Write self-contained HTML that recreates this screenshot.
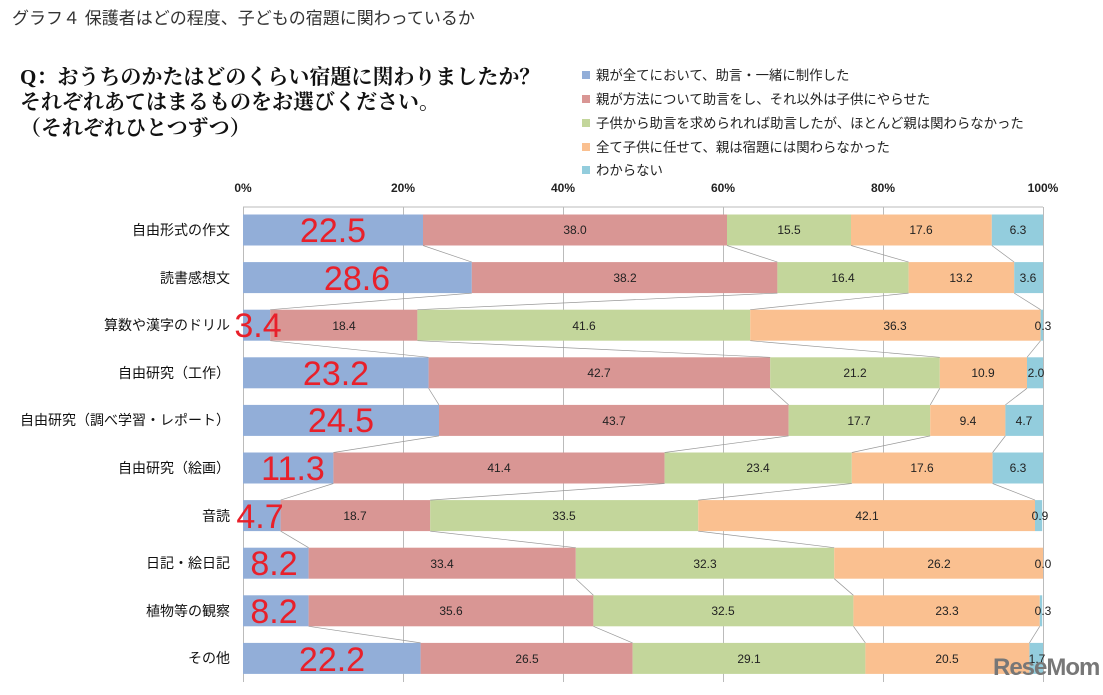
<!DOCTYPE html>
<html><head><meta charset="utf-8"><style>
body{margin:0;background:#fff;}
svg{display:block;font-family:"Liberation Sans","Noto Sans CJK JP",sans-serif;}
.s{font-size:12px;fill:#222;text-anchor:middle;}
.b{font-size:34px;fill:#e8202a;text-anchor:middle;}
.y{font-size:14px;fill:#111;text-anchor:end;}
.t{font-size:12px;fill:#222;text-anchor:middle;font-weight:bold;}
.l{font-size:13.4px;fill:#222;}
.q{font-size:21px;fill:#111;font-weight:bold;font-family:"Liberation Serif","Noto Serif CJK SC",serif;}
</style></head><body>
<svg width="1103" height="695" viewBox="0 0 1103 695">
<text x="12" y="24" style="font-size:17px;fill:#333">グラフ４ 保護者はどの程度、子どもの宿題に関わっているか</text>
<text x="20" y="84" class="q">Q：おうちのかたはどのくらい宿題に関わりましたか？</text>
<text x="20" y="109" class="q">それぞれあてはまるものをお選びください。</text>
<text x="20" y="135" class="q">（それぞれひとつずつ）</text>
<g>
<rect x="582" y="71" width="8" height="8" fill="#92aed8"/><text x="596" y="80" class="l">親が全てにおいて、助言・一緒に制作した</text>
<rect x="582" y="95" width="8" height="8" fill="#d99694"/><text x="596" y="104" class="l">親が方法について助言をし、それ以外は子供にやらせた</text>
<rect x="582" y="119" width="8" height="8" fill="#c3d69b"/><text x="596" y="128" class="l">子供から助言を求められれば助言したが、ほとんど親は関わらなかった</text>
<rect x="582" y="143" width="8" height="8" fill="#fac090"/><text x="596" y="152" class="l">全て子供に任せて、親は宿題には関わらなかった</text>
<rect x="582" y="166" width="8" height="8" fill="#93cddd"/><text x="596" y="175" class="l">わからない</text>
</g>
<g class="t"><text x="243" y="192" class="t">0%</text><text x="403" y="192" class="t">20%</text><text x="563" y="192" class="t">40%</text><text x="723" y="192" class="t">60%</text><text x="883" y="192" class="t">80%</text><text x="1043" y="192" class="t">100%</text></g>
<g stroke="#bbb" stroke-width="1">
<line x1="243" y1="207" x2="1043" y2="207"/>
<line x1="243.5" y1="207" x2="243.5" y2="682"/>
<line x1="403.5" y1="207" x2="403.5" y2="682"/><line x1="563.5" y1="207" x2="563.5" y2="682"/><line x1="723.5" y1="207" x2="723.5" y2="682"/><line x1="883.5" y1="207" x2="883.5" y2="682"/><line x1="1043.5" y1="207" x2="1043.5" y2="682"/>
</g>
<g>
<rect x="243" y="214.5" width="180" height="31" fill="#92aed8"/><rect x="423" y="214.5" width="304" height="31" fill="#d99694"/><rect x="727" y="214.5" width="124" height="31" fill="#c3d69b"/><rect x="851" y="214.5" width="140.8" height="31" fill="#fac090"/><rect x="991.8" y="214.5" width="51.2" height="31" fill="#93cddd"/>
<rect x="243" y="262.1" width="228.8" height="31" fill="#92aed8"/><rect x="471.8" y="262.1" width="305.6" height="31" fill="#d99694"/><rect x="777.4" y="262.1" width="131.2" height="31" fill="#c3d69b"/><rect x="908.6" y="262.1" width="105.6" height="31" fill="#fac090"/><rect x="1014.2" y="262.1" width="28.8" height="31" fill="#93cddd"/>
<rect x="243" y="309.7" width="27.2" height="31" fill="#92aed8"/><rect x="270.2" y="309.7" width="147.2" height="31" fill="#d99694"/><rect x="417.4" y="309.7" width="332.8" height="31" fill="#c3d69b"/><rect x="750.2" y="309.7" width="290.4" height="31" fill="#fac090"/><rect x="1040.6" y="309.7" width="2.4" height="31" fill="#93cddd"/>
<rect x="243" y="357.3" width="185.6" height="31" fill="#92aed8"/><rect x="428.6" y="357.3" width="341.6" height="31" fill="#d99694"/><rect x="770.2" y="357.3" width="169.6" height="31" fill="#c3d69b"/><rect x="939.8" y="357.3" width="87.2" height="31" fill="#fac090"/><rect x="1027" y="357.3" width="16" height="31" fill="#93cddd"/>
<rect x="243" y="404.9" width="196" height="31" fill="#92aed8"/><rect x="439" y="404.9" width="349.6" height="31" fill="#d99694"/><rect x="788.6" y="404.9" width="141.6" height="31" fill="#c3d69b"/><rect x="930.2" y="404.9" width="75.2" height="31" fill="#fac090"/><rect x="1005.4" y="404.9" width="37.6" height="31" fill="#93cddd"/>
<rect x="243" y="452.5" width="90.4" height="31" fill="#92aed8"/><rect x="333.4" y="452.5" width="331.2" height="31" fill="#d99694"/><rect x="664.6" y="452.5" width="187.2" height="31" fill="#c3d69b"/><rect x="851.8" y="452.5" width="140.8" height="31" fill="#fac090"/><rect x="992.6" y="452.5" width="50.4" height="31" fill="#93cddd"/>
<rect x="243" y="500.1" width="37.6" height="31" fill="#92aed8"/><rect x="280.6" y="500.1" width="149.6" height="31" fill="#d99694"/><rect x="430.2" y="500.1" width="268" height="31" fill="#c3d69b"/><rect x="698.2" y="500.1" width="336.8" height="31" fill="#fac090"/><rect x="1035" y="500.1" width="7.2" height="31" fill="#93cddd"/>
<rect x="243" y="547.7" width="65.6" height="31" fill="#92aed8"/><rect x="308.6" y="547.7" width="267.2" height="31" fill="#d99694"/><rect x="575.8" y="547.7" width="258.4" height="31" fill="#c3d69b"/><rect x="834.2" y="547.7" width="208.8" height="31" fill="#fac090"/>
<rect x="243" y="595.3" width="65.6" height="31" fill="#92aed8"/><rect x="308.6" y="595.3" width="284.8" height="31" fill="#d99694"/><rect x="593.4" y="595.3" width="260" height="31" fill="#c3d69b"/><rect x="853.4" y="595.3" width="186.4" height="31" fill="#fac090"/><rect x="1039.8" y="595.3" width="2.4" height="31" fill="#93cddd"/>
<rect x="243" y="642.9" width="177.6" height="31" fill="#92aed8"/><rect x="420.6" y="642.9" width="212" height="31" fill="#d99694"/><rect x="632.6" y="642.9" width="232.8" height="31" fill="#c3d69b"/><rect x="865.4" y="642.9" width="164" height="31" fill="#fac090"/><rect x="1029.4" y="642.9" width="13.6" height="31" fill="#93cddd"/>
</g>
<g stroke="#999" stroke-width="0.7" fill="none">
<line x1="423" y1="245.5" x2="471.8" y2="262.1"/><line x1="727" y1="245.5" x2="777.4" y2="262.1"/><line x1="851" y1="245.5" x2="908.6" y2="262.1"/><line x1="991.8" y1="245.5" x2="1014.2" y2="262.1"/>
<line x1="471.8" y1="293.1" x2="270.2" y2="309.7"/><line x1="777.4" y1="293.1" x2="417.4" y2="309.7"/><line x1="908.6" y1="293.1" x2="750.2" y2="309.7"/><line x1="1014.2" y1="293.1" x2="1040.6" y2="309.7"/>
<line x1="270.2" y1="340.7" x2="428.6" y2="357.3"/><line x1="417.4" y1="340.7" x2="770.2" y2="357.3"/><line x1="750.2" y1="340.7" x2="939.8" y2="357.3"/><line x1="1040.6" y1="340.7" x2="1027" y2="357.3"/>
<line x1="428.6" y1="388.3" x2="439" y2="404.9"/><line x1="770.2" y1="388.3" x2="788.6" y2="404.9"/><line x1="939.8" y1="388.3" x2="930.2" y2="404.9"/><line x1="1027" y1="388.3" x2="1005.4" y2="404.9"/>
<line x1="439" y1="435.9" x2="333.4" y2="452.5"/><line x1="788.6" y1="435.9" x2="664.6" y2="452.5"/><line x1="930.2" y1="435.9" x2="851.8" y2="452.5"/><line x1="1005.4" y1="435.9" x2="992.6" y2="452.5"/>
<line x1="333.4" y1="483.5" x2="280.6" y2="500.1"/><line x1="664.6" y1="483.5" x2="430.2" y2="500.1"/><line x1="851.8" y1="483.5" x2="698.2" y2="500.1"/><line x1="992.6" y1="483.5" x2="1035" y2="500.1"/>
<line x1="280.6" y1="531.1" x2="308.6" y2="547.7"/><line x1="430.2" y1="531.1" x2="575.8" y2="547.7"/><line x1="698.2" y1="531.1" x2="834.2" y2="547.7"/>
<line x1="575.8" y1="578.7" x2="593.4" y2="595.3"/><line x1="834.2" y1="578.7" x2="853.4" y2="595.3"/>
<line x1="308.6" y1="626.3" x2="420.6" y2="642.9"/><line x1="593.4" y1="626.3" x2="632.6" y2="642.9"/><line x1="853.4" y1="626.3" x2="865.4" y2="642.9"/><line x1="1039.8" y1="626.3" x2="1029.4" y2="642.9"/>
</g>
<g class="y">
<text x="230" y="235" class="y">自由形式の作文</text>
<text x="230" y="283" class="y">読書感想文</text>
<text x="230" y="330" class="y">算数や漢字のドリル</text>
<text x="230" y="378" class="y">自由研究（工作）</text>
<text x="230" y="425" class="y">自由研究（調べ学習・レポート）</text>
<text x="230" y="473" class="y">自由研究（絵画）</text>
<text x="230" y="521" class="y">音読</text>
<text x="230" y="568" class="y">日記・絵日記</text>
<text x="230" y="616" class="y">植物等の観察</text>
<text x="230" y="663" class="y">その他</text>
</g>
<g>
<text x="333" y="242" class="b">22.5</text>
<text x="357" y="290" class="b">28.6</text>
<text x="258" y="337" class="b">3.4</text>
<text x="336" y="385" class="b">23.2</text>
<text x="341" y="432" class="b">24.5</text>
<text x="293" y="480" class="b">11.3</text>
<text x="260" y="528" class="b">4.7</text>
<text x="274" y="575" class="b">8.2</text>
<text x="274" y="623" class="b">8.2</text>
<text x="332" y="671" class="b">22.2</text>
</g>
<g>
<text x="575" y="234" class="s">38.0</text><text x="789" y="234" class="s">15.5</text><text x="921" y="234" class="s">17.6</text><text x="1018" y="234" class="s">6.3</text>
<text x="625" y="282" class="s">38.2</text><text x="843" y="282" class="s">16.4</text><text x="961" y="282" class="s">13.2</text><text x="1028" y="282" class="s">3.6</text>
<text x="344" y="330" class="s">18.4</text><text x="584" y="330" class="s">41.6</text><text x="895" y="330" class="s">36.3</text><text x="1043" y="330" class="s">0.3</text>
<text x="599" y="377" class="s">42.7</text><text x="855" y="377" class="s">21.2</text><text x="983" y="377" class="s">10.9</text><text x="1036" y="377" class="s">2.0</text>
<text x="614" y="425" class="s">43.7</text><text x="859" y="425" class="s">17.7</text><text x="968" y="425" class="s">9.4</text><text x="1024" y="425" class="s">4.7</text>
<text x="499" y="472" class="s">41.4</text><text x="758" y="472" class="s">23.4</text><text x="922" y="472" class="s">17.6</text><text x="1018" y="472" class="s">6.3</text>
<text x="355" y="520" class="s">18.7</text><text x="564" y="520" class="s">33.5</text><text x="867" y="520" class="s">42.1</text><text x="1040" y="520" class="s">0.9</text>
<text x="442" y="568" class="s">33.4</text><text x="705" y="568" class="s">32.3</text><text x="939" y="568" class="s">26.2</text><text x="1043" y="568" class="s">0.0</text>
<text x="451" y="615" class="s">35.6</text><text x="723" y="615" class="s">32.5</text><text x="947" y="615" class="s">23.3</text><text x="1043" y="615" class="s">0.3</text>
<text x="527" y="663" class="s">26.5</text><text x="749" y="663" class="s">29.1</text><text x="947" y="663" class="s">20.5</text><text x="1037" y="663" class="s">1.7</text>
</g>
<text x="993" y="675" style="font-size:24px;font-weight:bold;fill:#777;letter-spacing:-1px">ReseMom</text>
</svg>
</body></html>
